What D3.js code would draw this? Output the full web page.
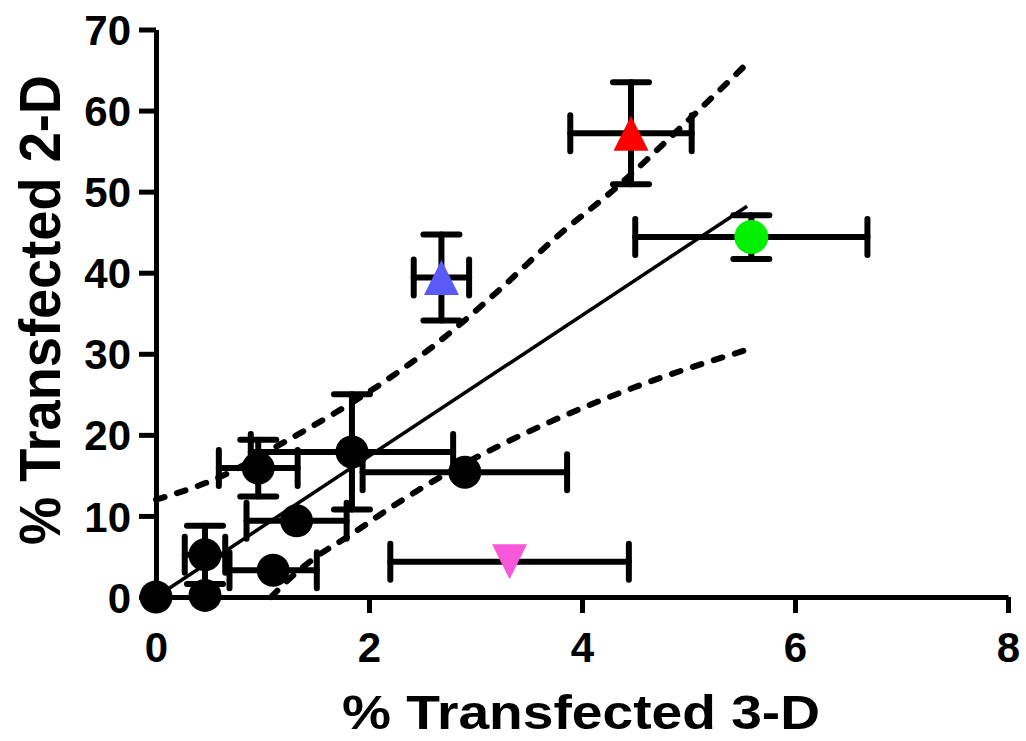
<!DOCTYPE html>
<html>
<head>
<meta charset="utf-8">
<script src="https://cdn.jsdelivr.net/npm/d3@7"></script>
<style>
  body { margin: 0; background: #fff; }
  svg { display: block; font-family: "Liberation Sans", Arial, sans-serif; }
  .axis path, .axis line { stroke: #000; stroke-width: 5; }
  .axis text { font-size: 42px; font-weight: bold; fill: #000; }
</style>
</head>
<body>
<div id="chart"></div>
<script>
var width = 1026
var height = 741

// tick values
var xTicks = [0, 2, 4, 6, 8]
var yTicks = [0, 10, 20, 30, 40, 50, 60, 70]

// black circles (mean, sem)
var blackX    = [0, 0.46, 0.46, 1.10, 1.32, 0.96, 1.84, 2.90]
var blackY    = [0, 0.2, 5.2, 3.3, 9.4, 15.9, 17.9, 15.4]
var blackXErr = [0, 0, 0.19, 0.41, 0.47, 0.37, 0.95, 0.96]
var blackYErr = [0, 0, 3.6, 0, 0, 3.5, 7.1, 0]

// coloured samples
var colNames = ["blue", "red", "green", "pink"]
var colX     = [2.68, 4.46, 5.59, 3.32]
var colY     = [39.4, 57.2, 44.4, 4.35]
var colXErr  = [0.26, 0.57, 1.09, 1.12]
var colYErr  = [5.3, 6.3, 2.7, 0]
var colFill  = ["#5a5af6", "#ff0000", "#00f000", "#f757d9"]
var colShape = ["up", "up", "circle", "down"]

// linear fit and 95% band
var fitX = [0, 5.55]
var fitY = [0, 48.2]
var upperX = [0, 0.6, 1.19, 2.17, 2.6, 3.2, 3.76, 4.33, 4.95, 5.55]
var upperY = [12.0, 14.8, 19.0, 26.8, 30.9, 37.6, 44.4, 50.6, 58.2, 65.8]
var lowerX = [1.08, 1.3, 1.51, 1.82, 2.2, 2.67, 3.23, 3.7, 4.5, 5.55]
var lowerY = [0, 2.8, 5.0, 7.6, 11.0, 14.8, 18.7, 21.6, 25.9, 30.5]

var x = d3.scaleLinear().domain([0, 8]).range([156, 1008])
var y = d3.scaleLinear().domain([0, 70]).range([597, 29.5])

var svg = d3.select("#chart").append("svg")
    .attr("width", width).attr("height", height)

var xAxisG = svg.append("g")
    .attr("class", "axis")
    .attr("transform", "translate(0," + y(0) + ")")
    .call(d3.axisBottom(x).tickValues(xTicks).tickSize(16).tickSizeOuter(0).tickPadding(19))
var yAxisG = svg.append("g")
    .attr("class", "axis")
    .attr("transform", "translate(" + x(0) + ",0)")
    .call(d3.axisLeft(y).tickValues(yTicks).tickSize(17).tickSizeOuter(0).tickPadding(8))
yAxisG.selectAll("text").attr("dy", "0.36em")

// axis titles
svg.append("text")
    .attr("x", 581).attr("y", 729)
    .attr("text-anchor", "middle")
    .attr("textLength", 478).attr("lengthAdjust", "spacingAndGlyphs")
    .style("font-size", "49px").style("font-weight", "bold")
    .text("% Transfected 3-D")
svg.append("text")
    .attr("transform", "translate(60,310) rotate(-90)")
    .attr("text-anchor", "middle")
    .attr("textLength", 470).attr("lengthAdjust", "spacingAndGlyphs")
    .style("font-size", "57px").style("font-weight", "bold")
    .text("% Transfected 2-D")

// fit lines
var line = d3.line()
    .x(function(d) { return x(d[0]) })
    .y(function(d) { return y(d[1]) })
var bandLine = d3.line()
    .x(function(d) { return x(d[0]) })
    .y(function(d) { return y(d[1]) })
    .curve(d3.curveMonotoneX)

svg.append("path")
    .datum(d3.zip(fitX, fitY))
    .attr("d", line)
    .attr("fill", "none").attr("stroke", "#000").attr("stroke-width", 3.5)
svg.selectAll(".band")
    .data([d3.zip(upperX, upperY), d3.zip(lowerX, lowerY)])
    .enter().append("path")
    .attr("class", "band")
    .attr("d", bandLine)
    .attr("fill", "none").attr("stroke", "#000").attr("stroke-width", 6)
    .attr("stroke-linecap", "round")
    .attr("stroke-dasharray", "9,13")

// all points in one list
var points = []
blackX.forEach(function(v, i) {
    points.push({x: v, y: blackY[i], xe: blackXErr[i], ye: blackYErr[i], fill: "#000", shape: "circle", r: 16.5})
})
colX.forEach(function(v, i) {
    points.push({x: v, y: colY[i], xe: colXErr[i], ye: colYErr[i], fill: colFill[i], shape: colShape[i], r: 17, name: colNames[i]})
})

var cap = 18
var err = svg.append("g")
    .attr("stroke", "#000").attr("stroke-width", 6).attr("stroke-linecap", "round")
points.forEach(function(d) {
    if (d.xe > 0) {
        err.append("line").attr("x1", x(d.x - d.xe)).attr("x2", x(d.x + d.xe)).attr("y1", y(d.y)).attr("y2", y(d.y))
        ;[d.x - d.xe, d.x + d.xe].forEach(function(v) {
            err.append("line").attr("x1", x(v)).attr("x2", x(v)).attr("y1", y(d.y) - cap).attr("y2", y(d.y) + cap)
        })
    }
    if (d.ye > 0) {
        err.append("line").attr("x1", x(d.x)).attr("x2", x(d.x)).attr("y1", y(d.y - d.ye)).attr("y2", y(d.y + d.ye))
        ;[d.y - d.ye, d.y + d.ye].forEach(function(v) {
            err.append("line").attr("x1", x(d.x) - cap).attr("x2", x(d.x) + cap).attr("y1", y(v)).attr("y2", y(v))
        })
    }
})

var triUp = { draw: function(ctx, size) {
    var s = Math.sqrt(size)
    ctx.moveTo(0, -s / 2); ctx.lineTo(s / 2, s / 2); ctx.lineTo(-s / 2, s / 2); ctx.closePath()
}}
var triDown = { draw: function(ctx, size) {
    var s = Math.sqrt(size)
    ctx.moveTo(0, s / 2); ctx.lineTo(s / 2, -s / 2); ctx.lineTo(-s / 2, -s / 2); ctx.closePath()
}}

svg.selectAll(".pt")
    .data(points)
    .enter().append("path")
    .attr("class", "pt")
    .attr("transform", function(d) { return "translate(" + x(d.x) + "," + y(d.y) + ")" })
    .attr("d", function(d) {
        if (d.shape === "circle") return d3.symbol(d3.symbolCircle, Math.PI * d.r * d.r)()
        return d3.symbol(d.shape === "up" ? triUp : triDown, 35 * 35)()
    })
    .attr("fill", function(d) { return d.fill })
</script>
</body>
</html>
